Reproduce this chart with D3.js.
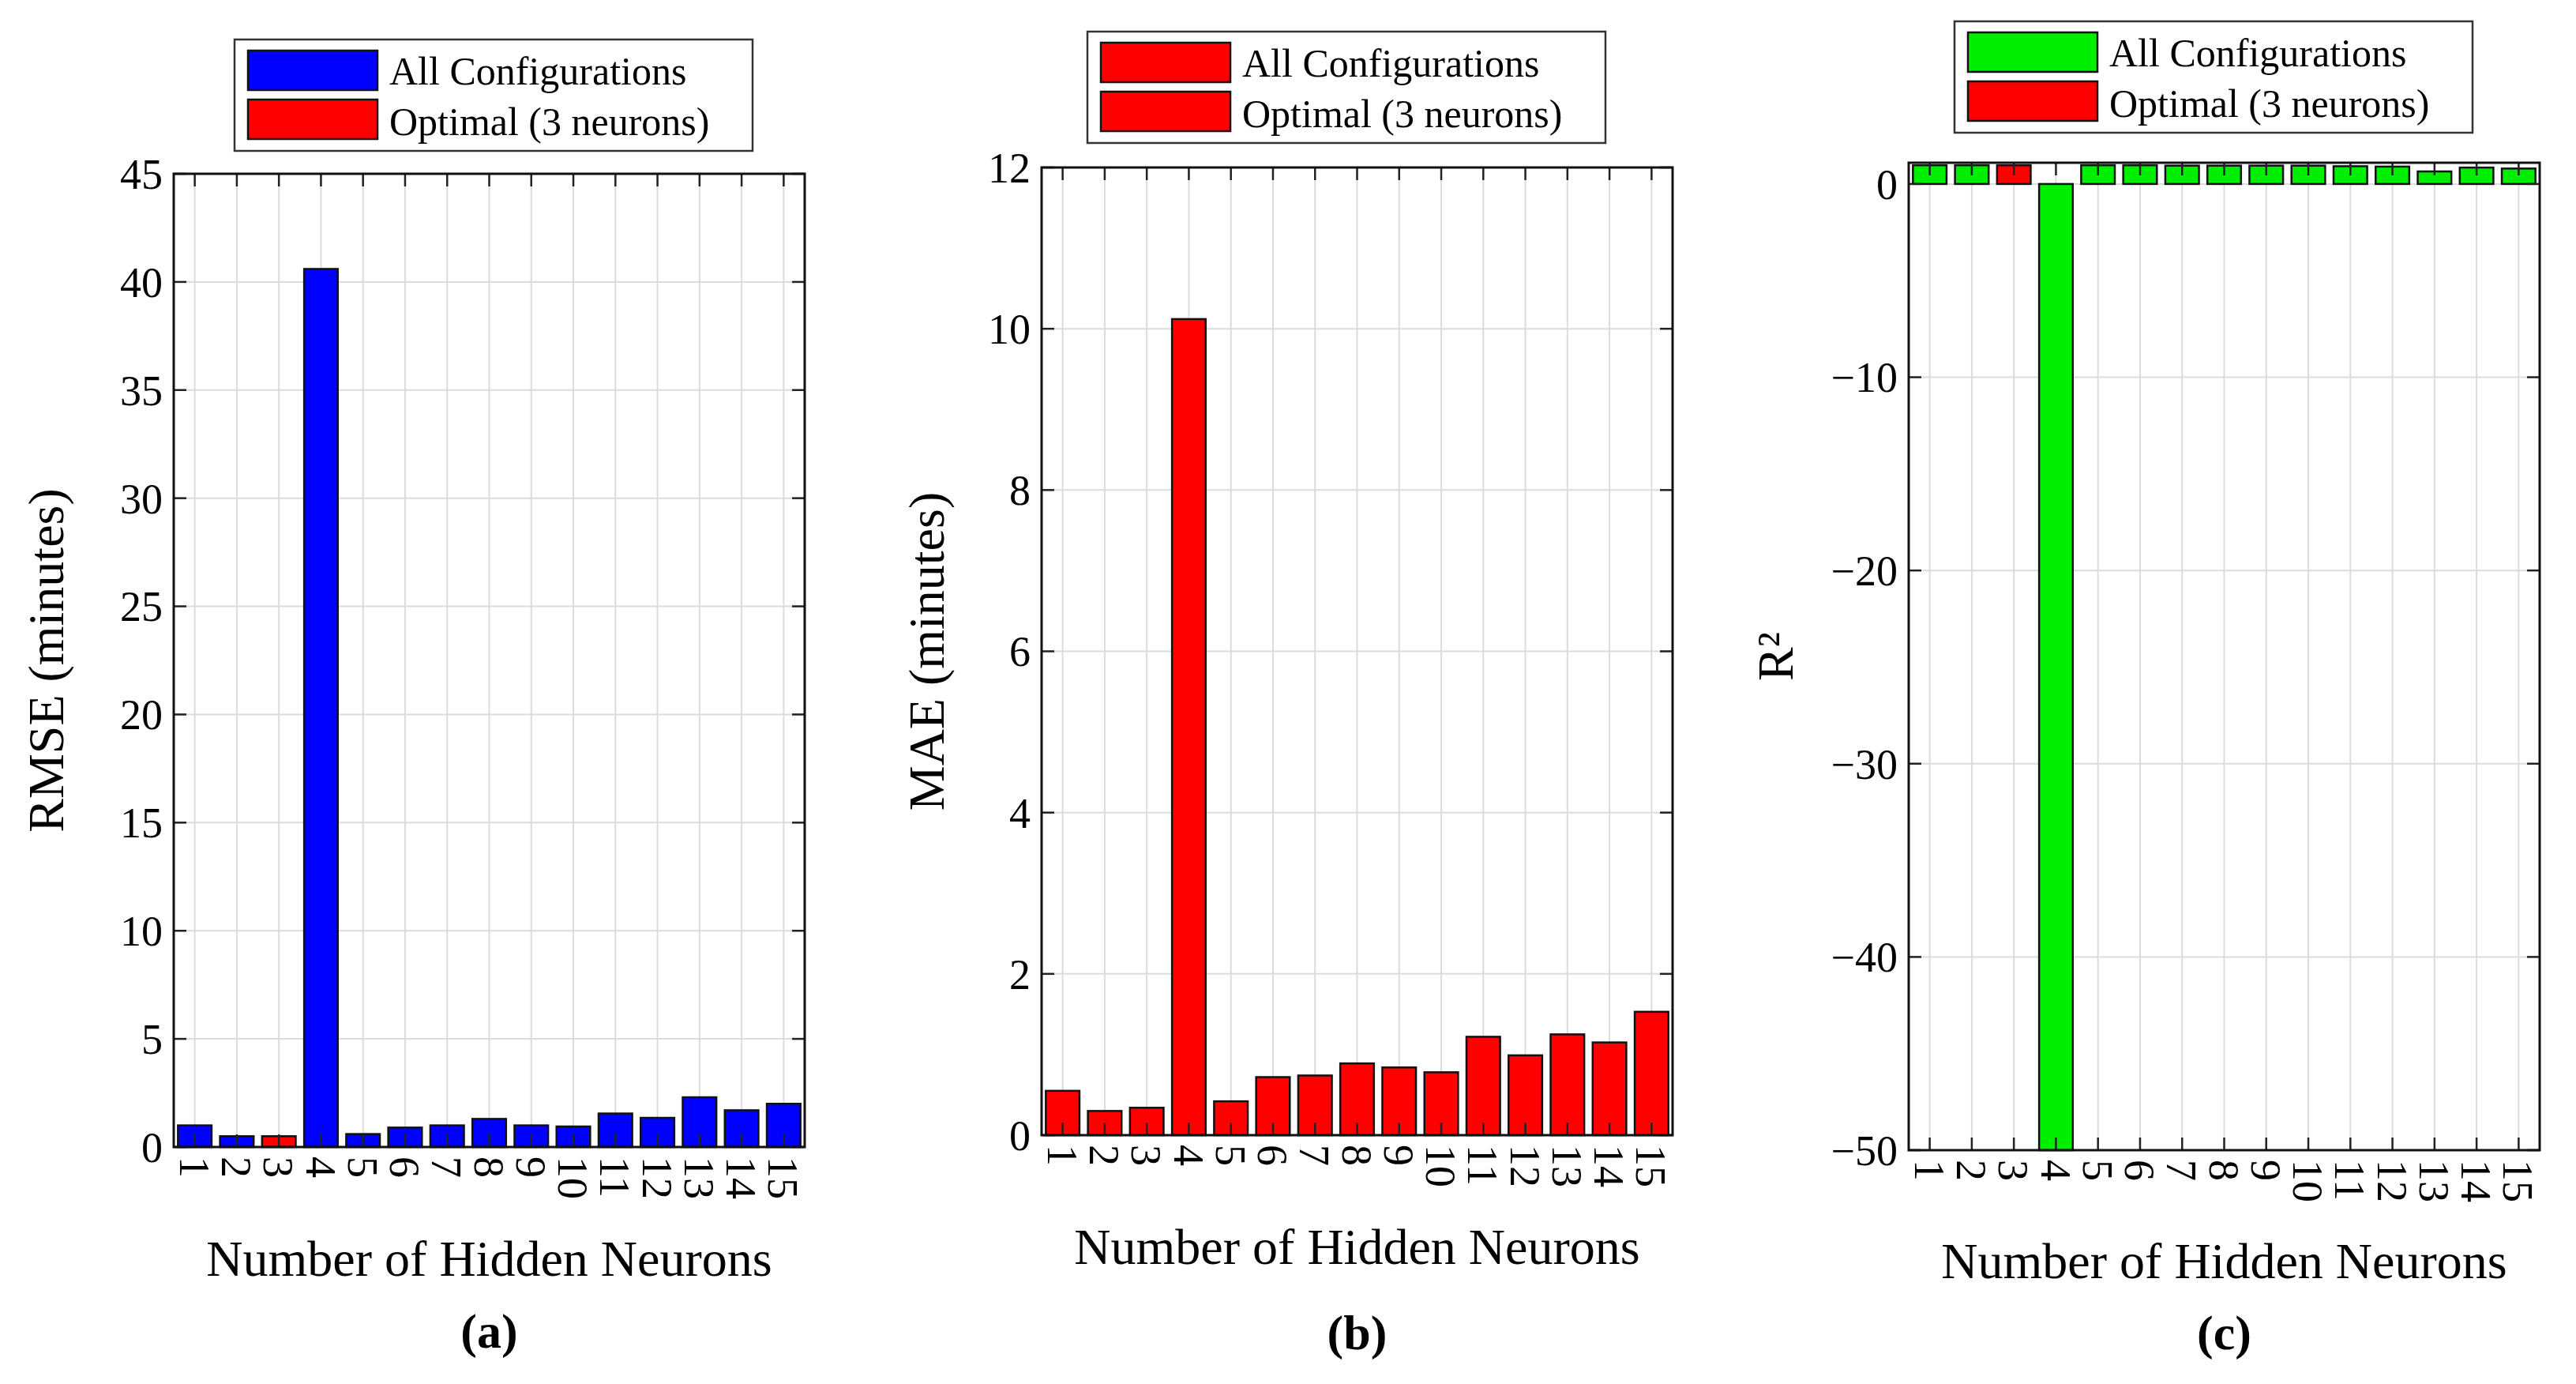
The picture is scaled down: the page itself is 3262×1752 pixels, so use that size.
<!DOCTYPE html>
<html><head><meta charset="utf-8">
<script src="https://cdn.jsdelivr.net/npm/d3@7"></script>
<style>body{margin:0;background:#fff}text{font-family:"Liberation Serif","Times New Roman",serif}</style>
</head><body>
<svg id="c" width="3262" height="1752"></svg>
<script>
const neurons = ["1","2","3","4","5","6","7","8","9","10","11","12","13","14","15"];
const rmse = [1.0,0.5,0.5,40.6,0.6,0.9,1.0,1.3,1.0,0.95,1.55,1.35,2.3,1.7,2.0];
const mae = [0.55,0.3,0.34,10.12,0.42,0.72,0.74,0.89,0.84,0.78,1.22,0.99,1.25,1.15,1.53];
const r2 = [0.97,0.97,0.97,-50,0.97,0.97,0.95,0.95,0.95,0.95,0.92,0.9,0.65,0.85,0.8];
const rmseTicks = [0,5,10,15,20,25,30,35,40,45];
const maeTicks = [0,2,4,6,8,10,12];
const r2Ticks = [-50,-40,-30,-20,-10,0];
const optimalIndex = 2;

const svg = d3.select("#c");
function panel(o){
  const g = svg.append("g");
  const x = d3.scaleBand().domain(neurons).range([o.x0,o.x1]).paddingInner(0.2).paddingOuter(0.1);
  const y = d3.scaleLinear().domain(o.domain).range([o.y1,o.y0]);
  // grid
  g.selectAll(".gx").data(neurons).enter().append("line")
    .attr("x1",d=>x(d)+x.bandwidth()/2).attr("x2",d=>x(d)+x.bandwidth()/2)
    .attr("y1",o.y0).attr("y2",o.y1).attr("stroke","#dcdcdc").attr("stroke-width",2);
  g.selectAll(".gy").data(o.ticks).enter().append("line")
    .attr("x1",o.x0).attr("x2",o.x1).attr("y1",d=>y(d)).attr("y2",d=>y(d))
    .attr("stroke","#dcdcdc").attr("stroke-width",2);
  // bars
  g.selectAll(".b").data(o.vals).enter().append("rect")
    .attr("x",(d,i)=>x(neurons[i])).attr("width",x.bandwidth())
    .attr("y",d=>y(Math.max(0,d))).attr("height",d=>Math.abs(y(d)-y(0)))
    .attr("fill",(d,i)=>i===optimalIndex?"#ff0000":o.color)
    .attr("stroke","#111").attr("stroke-width",2.5);
  // ticks inside
  const tl=16;
  neurons.forEach(d=>{const cx=x(d)+x.bandwidth()/2;
    g.append("line").attr("x1",cx).attr("x2",cx).attr("y1",o.y1).attr("y2",o.y1-tl).attr("stroke","#222").attr("stroke-width",2.5);
    g.append("line").attr("x1",cx).attr("x2",cx).attr("y1",o.y0).attr("y2",o.y0+tl).attr("stroke","#222").attr("stroke-width",2.5);});
  o.ticks.forEach(t=>{
    g.append("line").attr("x1",o.x0).attr("x2",o.x0+tl).attr("y1",y(t)).attr("y2",y(t)).attr("stroke","#222").attr("stroke-width",2.5);
    g.append("line").attr("x1",o.x1).attr("x2",o.x1-tl).attr("y1",y(t)).attr("y2",y(t)).attr("stroke","#222").attr("stroke-width",2.5);
    g.append("text").attr("x",o.x0-14).attr("y",y(t)).attr("dy","0.35em").attr("text-anchor","end")
      .attr("font-size",54).text(t<0?"\u2212"+(-t):t);
  });
  g.append("rect").attr("x",o.x0).attr("y",o.y0).attr("width",o.x1-o.x0).attr("height",o.y1-o.y0)
    .attr("fill","none").attr("stroke","#111").attr("stroke-width",3);
  // x labels rotated
  neurons.forEach(d=>{const cx=x(d)+x.bandwidth()/2;
    g.append("text").attr("transform",`translate(${cx},${o.y1+12}) rotate(90)`)
      .attr("dy","0.35em").attr("font-size",54).text(d);});
  g.append("text").attr("x",(o.x0+o.x1)/2).attr("y",o.xl).attr("text-anchor","middle").attr("font-size",64).text("Number of Hidden Neurons");
  g.append("text").attr("x",(o.x0+o.x1)/2).attr("y",o.cap).attr("text-anchor","middle").attr("font-size",62).attr("font-weight","bold").text(o.caption);
  g.append("text").attr("transform",`translate(${o.yl},${(o.y0+o.y1)/2}) rotate(-90)`).attr("text-anchor","middle").attr("font-size",64).text(o.ylabel);
  // legend
  const L=o.leg;
  g.append("rect").attr("x",L[0]).attr("y",L[1]).attr("width",656).attr("height",141).attr("fill","#fff").attr("stroke","#333").attr("stroke-width",2.5);
  [[o.color,"All Configurations"],["#ff0000","Optimal (3 neurons)"]].forEach((e,i)=>{
    g.append("rect").attr("x",L[0]+17).attr("y",L[1]+14+i*62).attr("width",164).attr("height",50).attr("fill",e[0]).attr("stroke","#111").attr("stroke-width",2.5);
    g.append("text").attr("x",L[0]+196).attr("y",L[1]+39+i*64).attr("dy","0.35em").attr("font-size",50).text(e[1]);
  });
}
panel({x0:220,x1:1019,y0:220,y1:1452,domain:[0,45],ticks:rmseTicks,vals:rmse,color:"#0000ff",ylabel:"RMSE (minutes)",yl:80,xl:1615,cap:1706,caption:"(a)",leg:[297,50]});
panel({x0:1319,x1:2118,y0:212,y1:1437,domain:[0,12],ticks:maeTicks,vals:mae,color:"#ff0000",ylabel:"MAE (minutes)",yl:1195,xl:1600,cap:1708,caption:"(b)",leg:[1377,40]});
panel({x0:2417,x1:3216,y0:206,y1:1456,domain:[-50,1.1],ticks:r2Ticks,vals:r2,color:"#00ee00",ylabel:"R\u00b2",yl:2270,xl:1618,cap:1708,caption:"(c)",leg:[2475,27]});
</script>
</body></html>
